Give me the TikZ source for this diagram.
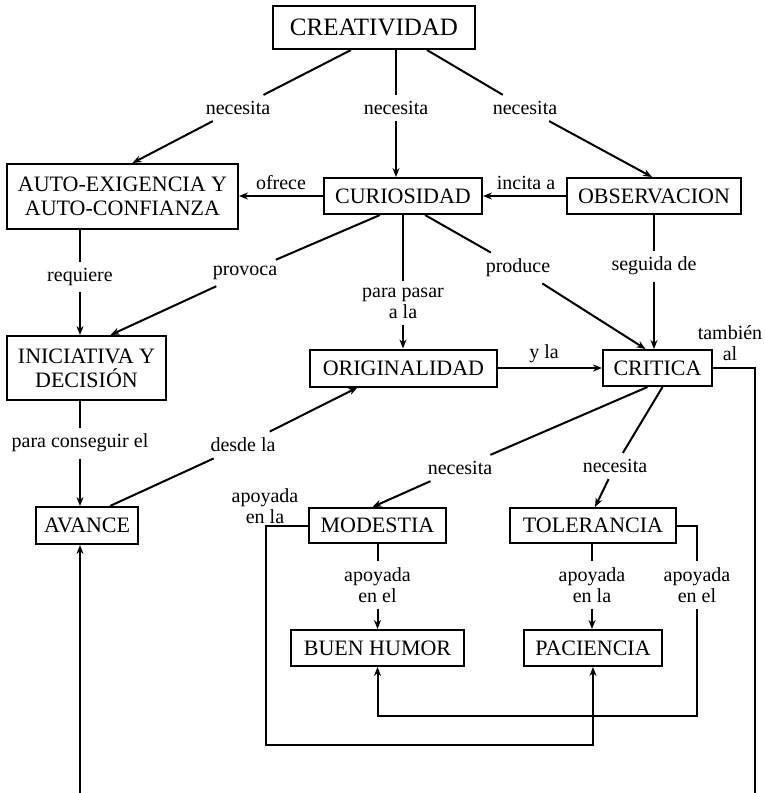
\documentclass[tikz,border=0pt]{standalone}
\usepackage{fontspec}
\setmainfont{Liberation Serif}
\usetikzlibrary{arrows.meta,calc}

\begin{document}
\begin{tikzpicture}[x=0.5pt,y=-0.5pt,
    box/.style={draw, line width=1pt, inner sep=0pt, align=center, font=\fontsize{11}{12}\selectfont},
    lbl/.style={inner sep=3pt, align=center, font=\fontsize{10}{10.5}\selectfont},
    conn/.style={line width=1pt},
    arr/.style={conn, -{Stealth[length=4.5pt,width=3.5pt]}}]
    \useasboundingbox (0,0) rectangle (765,793);
    \clip (0,0) rectangle (765,793);
    \fill[white] (0,0) rectangle (765,793);

    % the boxes
    \node[box, minimum width=101pt, minimum height=21.5pt, font=\fontsize{12.5}{13}\selectfont] (creatividad) at (374,27.5) {CREATIVIDAD};
    \node[box, minimum width=115.5pt, minimum height=32.5pt] (autoexig) at (122.5,196.5) {AUTO-EXIGENCIA Y\\AUTO-CONFIANZA};
    \node[box, minimum width=79pt, minimum height=18pt] (curiosidad) at (403,196) {CURIOSIDAD};
    \node[box, minimum width=87pt, minimum height=18pt] (observacion) at (654,196) {OBSERVACION};
    \node[box, minimum width=79.5pt, minimum height=32pt] (iniciativa) at (86.5,368) {INICIATIVA Y\\DECISIÓN};
    \node[box, minimum width=93.5pt, minimum height=18.5pt] (originalidad) at (403.5,368) {ORIGINALIDAD};
    \node[box, minimum width=54.5pt, minimum height=18pt] (critica) at (657.5,368) {CRITICA};
    \node[box, minimum width=51pt, minimum height=18.5pt] (avance) at (87,525.5) {AVANCE};
    \node[box, minimum width=68.5pt, minimum height=17.5pt] (modestia) at (377.5,525.5) {MODESTIA};
    \node[box, minimum width=83pt, minimum height=17.5pt] (tolerancia) at (593,525.5) {TOLERANCIA};
    \node[box, minimum width=86.5pt, minimum height=18pt] (buenhumor) at (377.5,648) {BUEN HUMOR};
    \node[box, minimum width=69pt, minimum height=18pt] (paciencia) at (593,648) {PACIENCIA};

    % the labels
    \node[lbl] (necA) at (238,108) {necesita};
    \node[lbl] (necB) at (396,108) {necesita};
    \node[lbl] (necC) at (525,108) {necesita};
    \node[lbl] (ofrece) at (281,183) {ofrece};
    \node[lbl] (incita) at (526,183) {incita a};
    \node[lbl] (requiere) at (80,277) {requiere};
    \node[lbl] (provoca) at (245,273) {provoca};
    \node[lbl] (parapasar) at (403,303) {para pasar\\a la};
    \node[lbl] (produce) at (518,268) {produce};
    \node[lbl] (seguida) at (654,266) {seguida de};
    \node[lbl] (yla) at (544,354) {y la};
    \node[lbl] (tambien) at (730,343) {también\\al};
    \node[lbl] (conseguir) at (80,443) {para conseguir el};
    \node[lbl] (desde) at (243,445) {desde la};
    \node[lbl] (necD) at (460,468) {necesita};
    \node[lbl] (necE) at (615,466) {necesita};
    \node[lbl] (apoyL) at (265,506) {apoyada\\en la};
    \node[lbl] (apoyM) at (377.5,585) {apoyada\\en el};
    \node[lbl] (apoyT) at (592,585) {apoyada\\en la};
    \node[lbl] (apoyR) at (697,585) {apoyada\\en el};

    \coordinate (loopL) at (266,745);
    \coordinate (loopR) at (377.5,716);
    \coordinate (bottomR) at (755,808);

    % the arrows
    \draw[conn] ($(creatividad.south)+(-23,0)$) -- (necA);
    \draw[arr] (necA) -- ($(autoexig.north)+(10,0)$);
    \draw[conn] (creatividad.south -| necB) -- (necB);
    \draw[arr] (necB) -- (necB |- curiosidad.north);
    \draw[conn] ($(creatividad.south)+(53,0)$) -- (necC);
    \draw[arr] (necC) -- ($(observacion.north)+(-2,0)$);

    \draw[arr] (curiosidad.west) -- (curiosidad.west -| autoexig.east);
    \draw[arr] (observacion.west) -- (observacion.west -| curiosidad.east);

    \draw[conn] (autoexig.south -| requiere) -- (requiere);
    \draw[arr] (requiere) -- (requiere |- iniciativa.north);
    \draw[conn] ($(curiosidad.south)+(-23,0)$) -- (provoca);
    \draw[arr] (provoca) -- ($(iniciativa.north)+(24,0)$);
    \draw[conn] (curiosidad.south -| parapasar) -- (parapasar);
    \draw[arr] (parapasar) -- (parapasar |- originalidad.north);
    \draw[conn] ($(curiosidad.south)+(22,0)$) -- (produce);
    \draw[arr] (produce) -- ($(critica.north)+(-12,0)$);
    \draw[conn] (observacion.south -| seguida) -- (seguida);
    \draw[arr] (seguida) -- (seguida |- critica.north);

    \draw[arr] (originalidad.east) -- (originalidad.east -| critica.west);
    \draw[conn] (iniciativa.south -| conseguir) -- (conseguir);
    \draw[arr] (conseguir) -- (conseguir |- avance.north);
    \draw[conn] ($(avance.north)+(23,0)$) -- (desde);
    \draw[arr] (desde) -- ($(originalidad.south)+(-46,0)$);

    \draw[conn] ($(critica.south)+(-10,0)$) -- (necD);
    \draw[arr] (necD) -- ($(modestia.north)+(-5,0)$);
    \draw[conn] ($(critica.south)+(5,0)$) -- (necE);
    \draw[arr] (necE) -- ($(tolerancia.north)+(2,0)$);
    \draw[arr] (critica.east) -| (bottomR) -| ($(avance.south)+(-7,0)$);

    \draw[conn] (modestia.south -| apoyM) -- (apoyM);
    \draw[arr] (apoyM) -- (apoyM |- buenhumor.north);
    \draw[conn] (tolerancia.south -| apoyT) -- (apoyT);
    \draw[arr] (apoyT) -- (apoyT |- paciencia.north);
    \draw[arr] (modestia.west) -| (loopL) -| (paciencia.south);
    \draw[conn] (tolerancia.east) -| (apoyR);
    \draw[arr] (apoyR) |- (loopR) -- (buenhumor.south);
\end{tikzpicture}
\end{document}
